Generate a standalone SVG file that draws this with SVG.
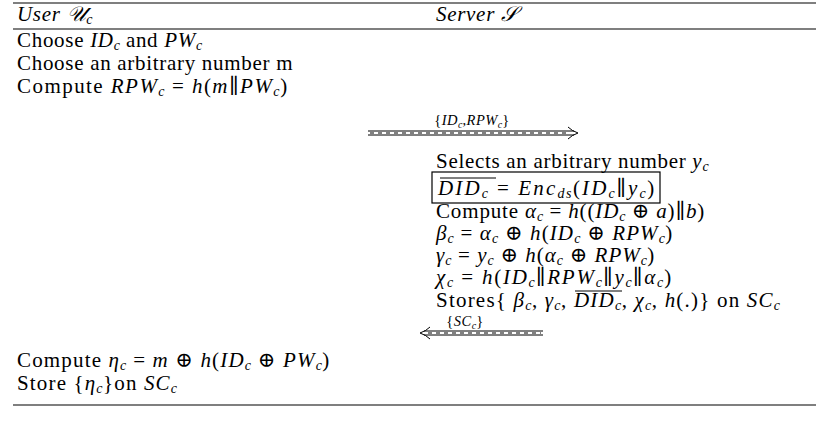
<svg xmlns="http://www.w3.org/2000/svg" width="829" height="431" viewBox="0 0 829 431">
<style>
text{font-family:"Liberation Serif","DejaVu Serif",serif;font-size:21px;letter-spacing:0.7px;fill:#000}
.i{font-style:italic}
.s{font-size:14px;letter-spacing:0}
.lb{font-size:14.5px;letter-spacing:0.5px}
.ls{font-size:10px;letter-spacing:0}
.rule{stroke:#000;stroke-width:1.2}
.ol{stroke:#000;stroke-width:1}
.ar{stroke:#000;stroke-width:1;fill:none}
.dash{stroke:#000;stroke-width:1;stroke-dasharray:4 4;fill:none}
</style>
<rect width="829" height="431" fill="#fff"/>
<g id="table">
<line class="rule" x1="13" y1="3" x2="816" y2="3"/>
<line class="rule" x1="13" y1="29" x2="816" y2="29"/>
<line class="rule" x1="13" y1="405" x2="816" y2="405"/>
</g>
<g id="header-user"><text x="17" y="21"><tspan class="i">User 𝒰</tspan><tspan class="i s" dy="3">c</tspan></text></g>
<g id="header-server"><text x="436" y="21"><tspan class="i">Server 𝒮</tspan></text></g>
<g id="user-steps">
<text x="17" y="47">Choose <tspan class="i">ID</tspan><tspan class="i s" dy="3">c</tspan><tspan dy="-3"> and </tspan><tspan class="i">PW</tspan><tspan class="i s" dy="3">c</tspan></text>
<text x="17" y="70">Choose an arbitrary number m</text>
<text x="17" y="93" textLength="271">Compute <tspan class="i">RPW</tspan><tspan class="i s" dy="3">c</tspan><tspan dy="-3"> = </tspan><tspan class="i">h</tspan>(<tspan class="i">m</tspan>∥<tspan class="i">PW</tspan><tspan class="i s" dy="3">c</tspan><tspan dy="-3">)</tspan></text>
</g>
<g id="server-steps">
<text x="436" y="168">Selects an arbitrary number <tspan class="i">y</tspan><tspan class="i s" dy="3">c</tspan></text>
<rect x="432" y="172" width="228" height="31" fill="none" stroke="#000" stroke-width="1.2"/>
<line class="ol" x1="440" y1="178" x2="496" y2="178"/>
<text x="438" y="195" textLength="217"><tspan class="i">DID</tspan><tspan class="i s" dy="3">c</tspan><tspan dy="-3"> = </tspan><tspan class="i">Enc</tspan><tspan class="i s" dy="3">ds</tspan><tspan dy="-3">(</tspan><tspan class="i">ID</tspan><tspan class="i s" dy="3">c</tspan><tspan dy="-3">∥</tspan><tspan class="i">y</tspan><tspan class="i s" dy="3">c</tspan><tspan dy="-3">)</tspan></text>
<text x="436" y="218" textLength="269">Compute <tspan class="i">α</tspan><tspan class="i s" dy="3">c</tspan><tspan dy="-3"> = </tspan><tspan class="i">h</tspan>((<tspan class="i">ID</tspan><tspan class="i s" dy="3">c</tspan><tspan dy="-3"> ⊕ </tspan><tspan class="i">a</tspan>)∥<tspan class="i">b</tspan>)</text>
<text x="436" y="240" textLength="237"><tspan class="i">β</tspan><tspan class="i s" dy="3">c</tspan><tspan dy="-3"> = </tspan><tspan class="i">α</tspan><tspan class="i s" dy="3">c</tspan><tspan dy="-3"> ⊕ </tspan><tspan class="i">h</tspan>(<tspan class="i">ID</tspan><tspan class="i s" dy="3">c</tspan><tspan dy="-3"> ⊕ </tspan><tspan class="i">RPW</tspan><tspan class="i s" dy="3">c</tspan><tspan dy="-3">)</tspan></text>
<text x="436" y="262" textLength="219"><tspan class="i">γ</tspan><tspan class="i s" dy="3">c</tspan><tspan dy="-3"> = </tspan><tspan class="i">y</tspan><tspan class="i s" dy="3">c</tspan><tspan dy="-3"> ⊕ </tspan><tspan class="i">h</tspan>(<tspan class="i">α</tspan><tspan class="i s" dy="3">c</tspan><tspan dy="-3"> ⊕ </tspan><tspan class="i">RPW</tspan><tspan class="i s" dy="3">c</tspan><tspan dy="-3">)</tspan></text>
<text x="436" y="284" textLength="236"><tspan class="i">χ</tspan><tspan class="i s" dy="3">c</tspan><tspan dy="-3"> = </tspan><tspan class="i">h</tspan>(<tspan class="i">ID</tspan><tspan class="i s" dy="3">c</tspan><tspan dy="-3">∥</tspan><tspan class="i">RPW</tspan><tspan class="i s" dy="3">c</tspan><tspan dy="-3">∥</tspan><tspan class="i">y</tspan><tspan class="i s" dy="3">c</tspan><tspan dy="-3">∥</tspan><tspan class="i">α</tspan><tspan class="i s" dy="3">c</tspan><tspan dy="-3">)</tspan></text>
<line class="ol" x1="575" y1="291" x2="622" y2="291"/>
<text x="436" y="307" textLength="344">Stores{ <tspan class="i">β</tspan><tspan class="i s" dy="3">c</tspan><tspan dy="-3">, </tspan><tspan class="i">γ</tspan><tspan class="i s" dy="3">c</tspan><tspan dy="-3">, </tspan><tspan class="i">DID</tspan><tspan class="i s" dy="3">c</tspan><tspan dy="-3">, </tspan><tspan class="i">χ</tspan><tspan class="i s" dy="3">c</tspan><tspan dy="-3">, </tspan><tspan class="i">h</tspan>(.)} on <tspan class="i">SC</tspan><tspan class="i s" dy="3">c</tspan></text>
</g>
<g id="user-final">
<text x="17" y="367" textLength="313">Compute <tspan class="i">η</tspan><tspan class="i s" dy="3">c</tspan><tspan dy="-3"> = </tspan><tspan class="i">m</tspan> ⊕ <tspan class="i">h</tspan>(<tspan class="i">ID</tspan><tspan class="i s" dy="3">c</tspan><tspan dy="-3"> ⊕ </tspan><tspan class="i">PW</tspan><tspan class="i s" dy="3">c</tspan><tspan dy="-3">)</tspan></text>
<text x="17" y="390" textLength="160">Store {<tspan class="i">η</tspan><tspan class="i s" dy="3">c</tspan><tspan dy="-3">}on </tspan><tspan class="i">SC</tspan><tspan class="i s" dy="3">c</tspan></text>
</g>
<g id="connectors">
<text class="lb" x="472" y="125" text-anchor="middle">{<tspan class="i">ID</tspan><tspan class="i ls" dy="3">c</tspan><tspan dy="-3">,</tspan><tspan class="i">RPW</tspan><tspan class="i ls" dy="3">c</tspan><tspan dy="-3">}</tspan></text>
<line class="ar" x1="368" y1="131" x2="574" y2="131"/>
<line class="ar" x1="368" y1="135" x2="574" y2="135"/>
<line class="dash" x1="370" y1="133" x2="570" y2="133"/>
<path class="ar" d="M568,127 Q572,131 578,133 Q572,135 568,139"/>
<text class="lb" x="465" y="326" text-anchor="middle">{<tspan class="i">SC</tspan><tspan class="i ls" dy="3">c</tspan><tspan dy="-3">}</tspan></text>
<line class="ar" x1="424" y1="331" x2="543" y2="331"/>
<line class="ar" x1="424" y1="335" x2="543" y2="335"/>
<line class="dash" x1="428" y1="333" x2="541" y2="333"/>
<path class="ar" d="M430,327 Q426,331 420,333 Q426,335 430,339"/>
</g>
</svg>
